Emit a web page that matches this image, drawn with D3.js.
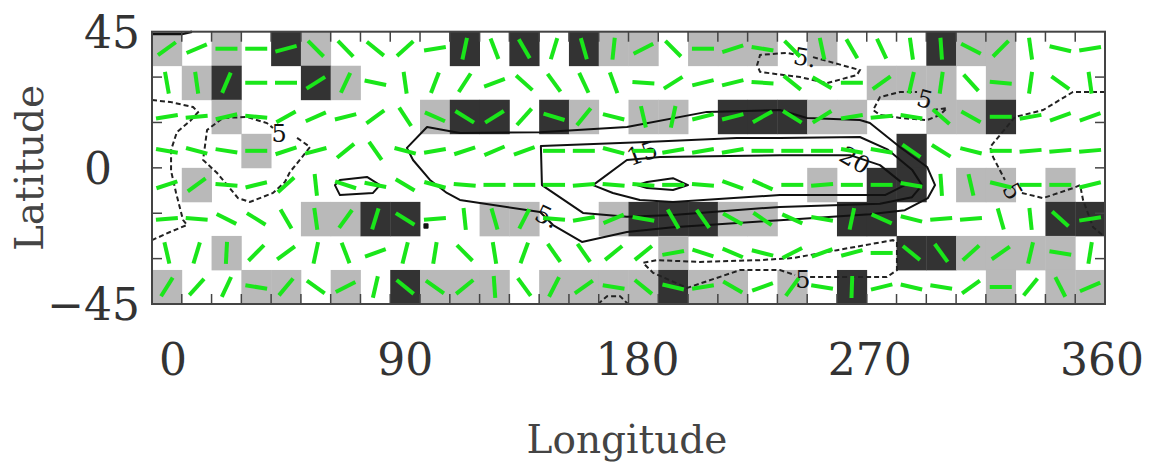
<!DOCTYPE html>
<html><head><meta charset="utf-8">
<script src="https://cdn.jsdelivr.net/npm/d3@7"></script>
<style>body{margin:0;background:#fff}svg{display:block}</style>
</head><body>
<svg id="chart" width="1154" height="464"></svg>
<script>
// ---------------- data ----------------
const lonTicks = [0, 90, 180, 270, 360];
const latTicks = [45, 0, -45];
const latMinorTicks = [-30, -15, 0, 15, 30];
const nCols = 32, nRows = 8;

// cell shading, rows from 45N southwards: 0 = none, 1 = light, 2 = dark
const shadeRows = [
  [1,0,1,0,2,1,0,0,0,0,2,0,2,0,2,1,1,0,1,1,1,0,1,0,0,0,2,1,1,0,0,0],
  [0,1,2,0,0,2,1,0,0,0,0,0,0,0,0,0,0,0,0,0,0,0,0,0,1,1,1,0,1,0,0,0],
  [0,0,1,0,0,0,0,0,0,1,2,2,0,2,1,0,1,1,0,2,2,2,1,1,0,0,1,1,2,0,0,0],
  [0,0,0,1,0,0,0,0,0,0,0,0,0,0,0,0,0,0,0,0,0,0,0,0,0,2,0,0,0,0,0,0],
  [0,1,0,0,0,0,0,0,0,0,0,0,0,0,0,0,0,0,0,0,0,0,1,0,2,2,0,1,1,0,1,0],
  [0,0,0,0,0,1,1,2,2,0,0,1,1,0,0,1,2,2,2,1,1,0,0,2,2,0,0,0,0,0,2,2],
  [0,0,1,0,0,0,0,0,0,0,0,0,0,0,0,0,0,1,0,0,0,0,0,0,0,2,2,1,1,1,1,0],
  [1,0,0,1,1,0,1,0,2,1,1,1,0,1,1,1,1,2,1,1,0,1,0,2,0,0,0,0,1,0,1,1]
];

// orientation of the segment in each cell (degrees, counter-clockwise from east)
const angleRows = [
  [36,23,0,0,15,-45,-46,-39,42,9,78,-69,-60,73,-74,84,27,-45,0,18,-9,-45,-78,-60,-65,-82,-86,-27,45,-82,-13,9],
  [-80,-82,67,0,0,32,65,-12,-82,69,57,20,-42,-54,-65,-70,-4,32,14,14,-4,-39,-30,0,36,77,82,-48,-5,82,-36,-82],
  [9,5,13,-5,29,24,14,36,-57,-24,-32,32,48,-17,51,-14,-77,78,14,14,29,-32,32,9,5,-9,-41,-29,0,10,20,20],
  [-10,-15,-9,0,18,15,39,-55,-15,10,18,23,20,0,0,-15,0,10,10,10,0,0,0,-10,-10,-35,-32,-14,0,5,5,5],
  [18,36,-4,14,42,-84,-18,-11,-31,-15,-5,0,0,0,5,-5,-5,0,-5,-20,-24,0,5,0,0,-10,-86,-77,-14,0,0,14],
  [5,-5,-27,-32,-60,-82,54,73,-32,5,-84,-74,63,-5,10,23,-10,-60,-55,-29,-34,-24,-10,78,-24,-14,5,5,-74,-84,-42,9],
  [-77,73,87,45,36,78,-69,20,76,81,-45,-81,70,-55,-55,39,39,10,-18,-23,-14,27,20,15,0,-39,-54,42,35,77,-9,81],
  [58,48,65,-9,50,-36,27,77,-39,-35,39,-86,-54,63,35,-9,-39,-13,9,-30,20,54,-9,88,14,-13,-9,36,0,51,-63,23]
];

// solid contours [lon, lat]
const contourOuter = [[96.3,6.6],[103.9,13.5],[116.3,11.5],[146.6,11.8],[179.4,13.5],[209.6,18.5],[237.2,19.1],[247.4,16.5],[267.4,15.8],[271.2,14.8],[282.5,6.9],[292.8,0.3],[295.8,-5.7],[293.1,-10.0],[284.4,-14.0],[271.2,-15.3],[237.2,-17.3],[196.8,-19.6],[179.4,-21.2],[162.4,-24.5],[151.5,-18.9],[146.6,-14.6],[116.3,-10.6],[111.4,-8.3],[105.0,-4.0],[98.6,2.6]];
const contour15 = [[146.9,7.2],[184.3,8.5],[220.9,9.9],[237.2,9.9],[267.4,10.2],[278.0,6.0],[287.1,-0.6],[290.9,-5.7],[287.1,-9.7],[275.0,-11.9],[237.2,-12.9],[196.8,-15.6],[179.4,-16.2],[162.8,-14.9],[147.3,-5.7]];
const contour20 = [[166.6,-5.7],[179.4,2.6],[191.9,3.6],[237.2,4.2],[263.7,4.2],[275.0,0.9],[284.4,-5.7],[276.9,-9.0],[237.2,-9.0],[196.8,-11.3],[184.3,-10.6],[174.1,-8.3]];
const contourSmallA = [[183.2,-5.7],[187.0,-4.7],[196.8,-3.4],[202.5,-5.7],[196.8,-7.3],[187.0,-6.7]];
const contourSmallB = [[69.1,-5.7],[71.0,-4.0],[81.2,-3.0],[86.1,-5.7],[83.5,-8.3],[71.0,-9.0]];
const contourDot = [[102.9,-18.6],[104.1,-18.6],[104.1,-19.8],[102.9,-19.8]];
const contourEdge = [[0,44.2],[11.3,44.2],[15.1,45]];

// dashed contours [lon, lat]
const dashedWest = [[0,22.4],[6.8,21.8],[15.5,20.1],[17.4,18.4],[14.4,15.5],[9.4,11.8],[7.2,5.9],[7.2,-1.0],[9.1,-8.3],[11.7,-17.2],[13.2,-18.9],[6.8,-21.2],[0,-23.9]];
const dashedRing = [[54.8,9.9],[59.7,6.9],[55.9,2.7],[52.1,-1.4],[50.2,-4.7],[45.7,-8.3],[37.0,-11.3],[32.5,-10.0],[24.6,-1.7],[19.3,2.6],[20.8,12.5],[26.8,16.5],[35.9,16.8],[43.4,14.8],[45.7,13.2]];
const dashedNorth = [[249.7,36.6],[267.4,32.3],[266.3,30.7],[255.0,28.0],[244.8,30.0],[229.7,31.7],[228.6,34.0],[229.7,37.3],[239.9,38.0],[243.7,37.3]];
const dashedNE = [[295.0,19.1],[300.3,19.8],[297.7,17.5],[292.8,15.8],[282.6,16.5],[275.0,17.5],[272.4,19.1],[275.0,23.4],[282.6,25.1],[289.0,25.1]];
const dashedEastA = [[360,25.1],[347.9,25.1],[336.6,19.1],[326.0,16.8],[316.6,6.9],[317.7,3.6],[322.2,-4.0]];
const dashedEastB = [[328.6,-8.3],[336.6,-10.0],[347.9,-6.7],[350.6,-5.7],[351.7,-10.6],[355.5,-19.6],[360,-22.9]];
const dashedSouth = [[248.6,-36.1],[255.0,-36.1],[277.6,-36.1],[281.4,-33.8],[281.4,-24.5],[279.9,-23.9],[258.8,-27.2],[242.2,-29.8],[229.7,-30.5],[207.0,-31.1],[190.8,-30.5],[185.5,-31.4],[189.3,-34.7],[202.1,-39.7],[222.1,-33.8],[237.2,-33.8],[242.9,-35.4]];
const dashedArc = [[168.5,-45],[171.9,-42.4],[176.8,-42.4],[179.8,-45]];

// contour labels: [lon, lat, text, rotation]
const contourLabels = [
  [48.0, 11.5, "5", 0],
  [149.2, -16.0, "5.", 25],
  [185.1, 4.9, "15", -20],
  [265.6, 2.6, "20", 30],
  [246.7, 36.6, "5.", 10],
  [292.0, 22.8, "5", 15],
  [325.2, -7.7, "5", 60],
  [245.9, -36.8, "5", 0]
];

// ---------------- drawing ----------------
const svg = d3.select("#chart");
const FONT = "'DejaVu Serif', serif";
const x = d3.scaleLinear().domain([0, 360]).range([152, 1105]);
const y = d3.scaleLinear().domain([-45, 45]).range([304, 31.7]);
const xLab = d3.scaleLinear().domain([0, 360]).range([173, 1102]);
const cellW = 360 / nCols, cellH = 90 / nRows;

const cells = [];
shadeRows.forEach((row, r) => row.forEach((s, c) => {
  cells.push({lon0: c * cellW, lat1: 45 - r * cellH, shade: s, angle: angleRows[r][c]});
}));

const shadeColor = {1: "#b9b9b9", 2: "#333333"};
svg.append("g").selectAll("rect")
  .data(cells.filter(d => d.shade > 0))
  .join("rect")
  .attr("x", d => x(d.lon0))
  .attr("y", d => y(d.lat1))
  .attr("width", d => x(d.lon0 + cellW) - x(d.lon0) + 0.4)
  .attr("height", d => y(d.lat1 - cellH) - y(d.lat1) + 0.4)
  .attr("fill", d => shadeColor[d.shade]);

// contours
const line = d3.line().x(d => x(d[0])).y(d => y(d[1]));
const lineClosed = d3.line().x(d => x(d[0])).y(d => y(d[1])).curve(d3.curveLinearClosed);
const gC = svg.append("g").attr("fill", "none").attr("stroke", "#111").attr("stroke-width", 2).attr("stroke-linejoin", "round");
[contourOuter, contour15, contour20, contourSmallA, contourSmallB].forEach(c => gC.append("path").attr("d", lineClosed(c)));
gC.append("path").attr("d", lineClosed(contourDot)).attr("fill", "#111");
gC.append("path").attr("d", line(contourEdge)).attr("stroke-width", 2.5);
const gD = svg.append("g").attr("fill", "none").attr("stroke", "#222").attr("stroke-width", 2).attr("stroke-dasharray", "5,3");
[dashedWest, dashedRing, dashedNorth, dashedNE, dashedEastA, dashedEastB, dashedSouth, dashedArc].forEach(c => gD.append("path").attr("d", line(c)));

svg.append("g").selectAll("text").data(contourLabels).join("text")
  .attr("transform", d => `translate(${x(d[0])},${y(d[1])}) rotate(${d[3]})`)
  .attr("text-anchor", "middle").attr("dy", "0.36em")
  .attr("font-family", FONT).attr("font-size", 24).attr("fill", "#111")
  .text(d => d[2]);

// green orientation segments
const half = 11;
svg.append("g").selectAll("line").data(cells).join("line")
  .attr("x1", d => x(d.lon0 + cellW / 2) - half * Math.cos(d.angle * Math.PI / 180))
  .attr("y1", d => y(d.lat1 - cellH / 2) + half * Math.sin(d.angle * Math.PI / 180))
  .attr("x2", d => x(d.lon0 + cellW / 2) + half * Math.cos(d.angle * Math.PI / 180))
  .attr("y2", d => y(d.lat1 - cellH / 2) - half * Math.sin(d.angle * Math.PI / 180))
  .attr("stroke", "#1ae61a").attr("stroke-width", 4);

// frame and ticks
svg.append("rect").attr("x", x(0)).attr("y", y(45)).attr("width", x(360) - x(0)).attr("height", y(-45) - y(45))
  .attr("fill", "none").attr("stroke", "#444").attr("stroke-width", 2);
const lonMinor = d3.range(1, nCols).map(i => i * cellW);
const gT = svg.append("g").attr("stroke", "#444").attr("stroke-width", 1.5);
gT.selectAll(".tb").data(lonMinor).join("line").attr("x1", d => x(d)).attr("x2", d => x(d)).attr("y1", y(-45)).attr("y2", y(-45) - 10);
gT.selectAll(".tt").data(lonMinor).join("line").attr("x1", d => x(d)).attr("x2", d => x(d)).attr("y1", y(45)).attr("y2", y(45) + 10);
gT.selectAll(".tl").data(latMinorTicks).join("line").attr("y1", d => y(d)).attr("y2", d => y(d)).attr("x1", x(0)).attr("x2", x(0) + 10);
gT.selectAll(".tr").data(latMinorTicks).join("line").attr("y1", d => y(d)).attr("y2", d => y(d)).attr("x1", x(360)).attr("x2", x(360) - 10);

// tick labels
svg.append("g").selectAll("text").data(lonTicks).join("text")
  .attr("x", d => xLab(d)).attr("y", 375)
  .attr("text-anchor", "middle").attr("font-family", FONT).attr("font-size", 44).attr("fill", "#333")
  .text(d => d);
svg.append("g").selectAll("text").data(latTicks).join("text")
  .attr("x", d => d === 0 ? 98 : 140).attr("y", d => y(d) + 16)
  .attr("text-anchor", d => d === 0 ? "middle" : "end")
  .attr("font-family", FONT).attr("font-size", 44).attr("fill", "#333")
  .text(d => d < 0 ? "\u2212" + Math.abs(d) : d);

// axis titles
svg.append("text").attr("x", 627).attr("y", 453).attr("text-anchor", "middle")
  .attr("font-family", FONT).attr("font-size", 39).attr("fill", "#444").text("Longitude");
svg.append("text").attr("transform", "translate(43,168) rotate(-90)").attr("text-anchor", "middle")
  .attr("font-family", FONT).attr("font-size", 39).attr("fill", "#444").text("Latitude");
</script>
</body></html>
